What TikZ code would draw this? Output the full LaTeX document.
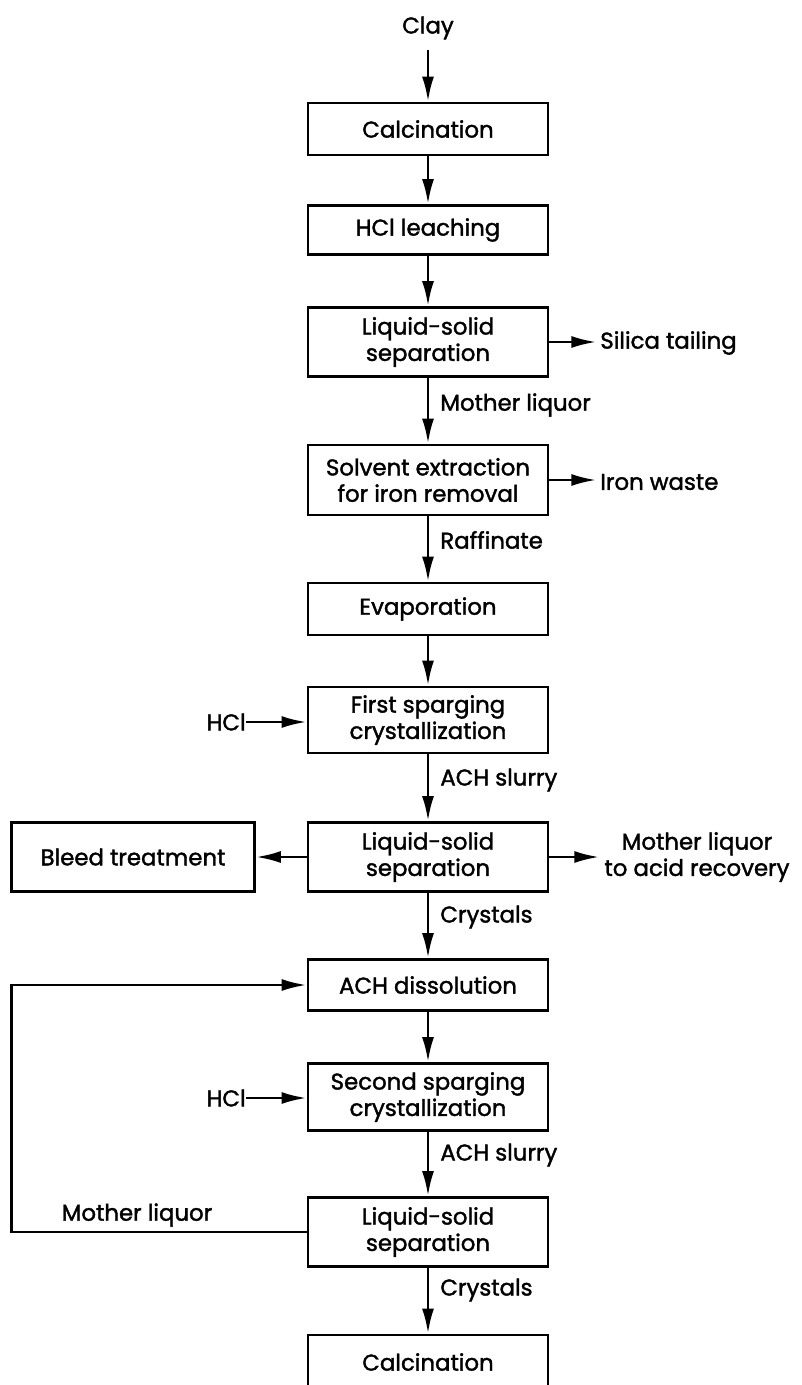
\documentclass[tikz,border=0pt]{standalone}
\usepackage{fontspec}
\setmainfont{Poppins}[BoldFont=Poppins, BoldFeatures={FakeBold=1.6}]
\usetikzlibrary{arrows.meta}

\tikzstyle{procbox} = [draw=black, line width=1.6pt, rectangle,
    minimum width=4.8cm, minimum height=1.04cm, align=center,
    inner sep=2pt, font=\fontsize{13}{15}\selectfont\bfseries]
\tikzstyle{twoline} = [procbox, minimum height=1.38cm]
\tikzstyle{flowlabel} = [inner sep=0pt, align=center,
    font=\fontsize{13}{15}\selectfont\bfseries]
\tikzstyle{flow} = [line width=1.6pt, -{Latex[length=0.5cm,width=0.24cm]}]

\begin{document}
\begin{tikzpicture}[x=0.02cm, y=-0.02cm]
\useasboundingbox (0,0) rectangle (801,1385);

% main column
\node [flowlabel] (clay) at (428,28) {Clay};
\node [procbox] (calc1) at (428,129) {Calcination};
\node [procbox, minimum height=0.98cm] (leach) at (428,230) {HCl leaching};
\node [twoline] (sep1) at (428,342) {Liquid-solid\\separation};
\node [twoline, minimum height=1.4cm] (solv) at (428,480) {Solvent extraction\\for iron removal};
\node [procbox] (evap) at (428,609) {Evaporation};
\node [twoline, minimum height=1.32cm] (spg1) at (428,720) {First sparging\\crystallization};
\node [twoline] (sep2) at (428,857) {Liquid-solid\\separation};
\node [procbox, minimum height=1.02cm] (diss) at (428,985) {ACH dissolution};
\node [twoline, minimum height=1.34cm] (spg2) at (428,1097) {Second sparging\\crystallization};
\node [twoline] (sep3) at (428,1232) {Liquid-solid\\separation};
\node [procbox, minimum height=1.08cm] (calc2) at (428,1362) {Calcination};

% side streams
\node [flowlabel, anchor=west] (silica) at (600,343) {Silica tailing};
\node [flowlabel, anchor=west] (iron) at (600,482) {Iron waste};
\node [flowlabel, anchor=east] (hcl1) at (246,722) {HCl};
\node [twoline, minimum width=4.86cm] (bleed) at (133,857) {Bleed treatment};
\node [flowlabel] (acid) at (697,857) {Mother liquor\\to acid recovery};
\node [flowlabel, anchor=east] (hcl2) at (246,1098) {HCl};

% stream labels
\node [flowlabel, anchor=west] (lml) at (440,405) {Mother liquor};
\node [flowlabel, anchor=west] (lraf) at (440,540) {Raffinate};
\node [flowlabel, anchor=west] (lslur1) at (440,780) {ACH slurry};
\node [flowlabel, anchor=west] (lcry1) at (440,917) {Crystals};
\node [flowlabel, anchor=west] (lslur2) at (440,1155) {ACH slurry};
\node [flowlabel] (lret) at (137,1215) {Mother liquor};
\node [flowlabel, anchor=west] (lcry2) at (440,1290) {Crystals};

% arrows
\draw [flow, shorten <=6pt] (clay) -- (calc1);
\draw [flow] (calc1) -- (leach);
\draw [flow] (leach) -- (sep1);
\draw [flow] (sep1) -- (solv);
\draw [flow] (solv) -- (evap);
\draw [flow] (evap) -- (spg1);
\draw [flow] (spg1) -- (sep2);
\draw [flow] (sep2) -- (diss);
\draw [flow] (diss) -- (spg2);
\draw [flow] (spg2) -- (sep3);
\draw [flow] (sep3) -- (calc2);

\draw [flow] (sep1.east) -- ++(47,0);
\draw [flow] (solv.east) -- ++(47,0);
\draw [flow] (hcl1) -- (spg1.west |- hcl1);
\draw [flow] (sep2.west) -- (bleed.east);
\draw [flow] (sep2.east) -- ++(50,0);
\draw [flow] (hcl2) -- (spg2.west |- hcl2);
\draw [flow] (sep3.west) -- ++(-295,0) |- (diss.west);
\end{tikzpicture}
\end{document}
